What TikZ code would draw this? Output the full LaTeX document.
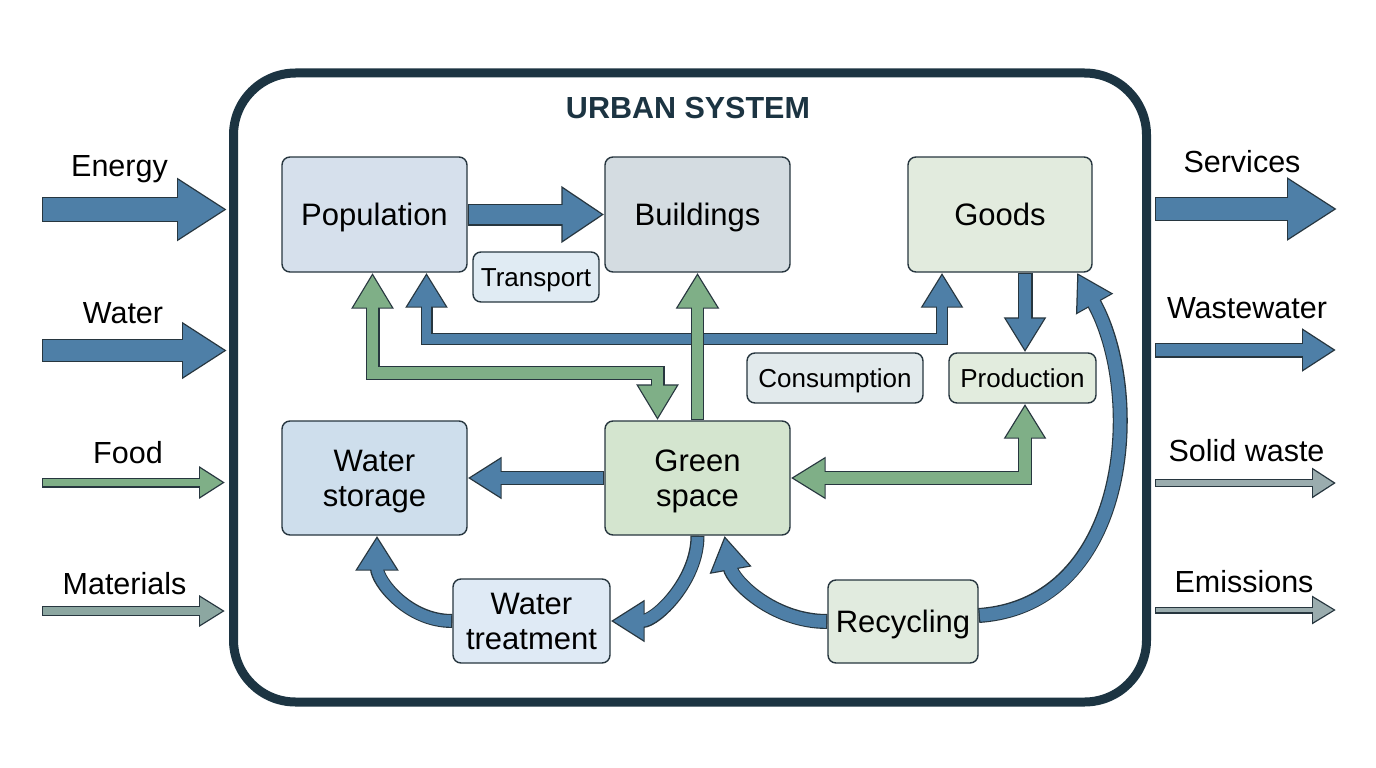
\documentclass[tikz,border=0pt]{standalone}
\usepackage{fontspec}
\setmainfont{Liberation Sans}
\usetikzlibrary{arrows.meta}

\definecolor{ink}{HTML}{27363F}
\definecolor{navy}{HTML}{1C3442}
\definecolor{arrowblue}{HTML}{4E7FA7}
\definecolor{arrowgreen}{HTML}{7FAF87}
\definecolor{arrowgray}{HTML}{8CA7A1}
\definecolor{arrowslate}{HTML}{9AACAE}
\definecolor{popfill}{HTML}{D6E0EC}
\definecolor{bldfill}{HTML}{D4DCE1}
\definecolor{goodsfill}{HTML}{E2EBDE}
\definecolor{transfill}{HTML}{E0EBF3}
\definecolor{consfill}{HTML}{E2EAEC}
\definecolor{prodfill}{HTML}{E2ECDE}
\definecolor{wstfill}{HTML}{CEDEEC}
\definecolor{greenfill}{HTML}{D4E5CF}
\definecolor{wtrfill}{HTML}{DFEAF5}
\definecolor{recyfill}{HTML}{E1EBDF}

\pgfdeclarelayer{bg}
\pgfsetlayers{bg,main}

\tikzset{
  box/.style={draw=ink, line width=1.4pt, rounded corners=8pt, align=center,
    inner sep=0pt, minimum width=185pt, minimum height=115pt,
    font=\fontsize{31}{35}\selectfont},
  oneline/.style={text height=22pt, text depth=0pt},
  tag/.style={box, minimum height=50pt, font=\fontsize{26}{30}\selectfont,
    text height=19pt, text depth=0pt},
  flowlabel/.style={anchor=base, inner sep=0pt, font=\fontsize{30.5}{35}\selectfont},
}

% outlined block arrow: [tips]{fill}{shaft}{head length}{head width}{path}
\newcommand{\flow}[6][->]{%
  \def\flowtips{#1}\def\flowtwo{<->}%
  \ifx\flowtips\flowtwo\def\flowcut{2.5pt}\else\def\flowcut{1.2pt}\fi
  \pgfmathsetmacro\flowsw{#3-2.4}%
  \pgfmathsetmacro\flowhl{#4-3.7}%
  \pgfmathsetmacro\flowhw{#5*(#4-3.7)/#4}%
  \draw[ink, line width=#3pt, arrows={#1},
    >={Triangle[length=#4pt, width=#5pt]}] #6;
  \draw[#2, line width=\flowsw pt, arrows={#1},
    >={Triangle[length=\flowhl pt, width=\flowhw pt]},
    shorten >=2.5pt, shorten <=\flowcut] #6;
}

\begin{document}
\begin{tikzpicture}[x=1pt,y=-1pt]
  \useasboundingbox (0,0) rectangle (1376,768);
  % --- city boundary ---
  \node[draw=navy, line width=9pt, rounded corners=62pt,
    minimum width=913pt, minimum height=629pt] (city) at (690,387.5) {};
  \node[anchor=base, text=navy, font=\bfseries\fontsize{30.5}{35}\selectfont]
    (title) at (688,118) {URBAN SYSTEM};
  % --- stocks ---
  \node[box, oneline, fill=popfill] (pop) at (374.5,214.5) {Population};
  \node[box, oneline, fill=bldfill] (bld) at (697.5,214.5) {Buildings};
  \node[box, oneline, fill=goodsfill, minimum width=184pt] (goods) at (1000,214.5) {Goods};
  \node[box, fill=wstfill, minimum height=114pt, text depth=0pt] (wst) at (374.5,478) {Water\\storage};
  \node[box, fill=greenfill, minimum height=114pt, text depth=0pt] (green) at (697.5,478) {Green\\space};
  \node[box, fill=wtrfill, minimum width=157pt, minimum height=84pt] (wtr) at (531.5,621) {Water\\treatment};
  \node[box, oneline, fill=recyfill, minimum width=150pt, minimum height=83pt] (recy) at (903,621.5) {Recycling};
  % --- processes ---
  \node[tag, fill=transfill, minimum width=126pt] (trans) at (536,277) {Transport};
  \node[tag, fill=consfill, minimum width=176pt] (cons) at (835,378) {Consumption};
  \node[tag, fill=prodfill, minimum width=147pt] (prod) at (1022.5,378) {Production};
  % --- inputs / outputs ---
  \node[flowlabel] (lenergy) at (119.5,176) {Energy};
  \node[flowlabel] (lwater) at (123,323) {Water};
  \node[flowlabel] (lfood) at (128,463) {Food};
  \node[flowlabel] (lmat) at (124.5,594) {Materials};
  \node[flowlabel] (lserv) at (1242,172) {Services};
  \node[flowlabel] (lwaste) at (1247,318) {Wastewater};
  \node[flowlabel] (lsolid) at (1246.5,461) {Solid waste};
  \node[flowlabel] (lemis) at (1244,592) {Emissions};
  \coordinate (inenergy) at (42,209.5);
  \coordinate (inwater) at (42,350.5);
  \coordinate (infood) at (42,482.5);
  \coordinate (inmat) at (42,611);
  \coordinate (outserv) at (1337,209);
  \coordinate (outwaste) at (1336,350);
  \coordinate (outsolid) at (1336,483);
  \coordinate (outemis) at (1336,610);

  \begin{pgfonlayer}{bg}
    \fill[white] (0,0) rectangle (1376,768);
    % flows in
    \flow{arrowblue}{25}{50}{60}{(inenergy) -- ([xshift=-2pt]inenergy -| city.west)}
    \flow{arrowblue}{23}{45}{54}{(inwater) -- ([xshift=-2pt]inwater -| city.west)}
    \flow{arrowgreen}{10}{26}{31}{(infood) -- ([xshift=-4pt]infood -| city.west)}
    \flow{arrowgray}{10}{26}{30}{(inmat) -- ([xshift=-4pt]inmat -| city.west)}
    % flows out
    \flow{arrowblue}{24}{50}{60}{([xshift=4pt]city.east |- outserv) -- (outserv)}
    \flow{arrowblue}{15}{34}{41}{([xshift=4pt]city.east |- outwaste) -- (outwaste)}
    \flow{arrowslate}{8}{24}{29}{([xshift=4pt]city.east |- outsolid) -- (outsolid)}
    \flow{arrowslate}{7}{24}{27}{([xshift=4pt]city.east |- outemis) -- (outemis)}
    % inner flows
    \flow{arrowblue}{22}{43}{54}{(pop.east) -- (bld.west)}
    \flow[<->]{arrowgreen}{14}{36}{40}{([xshift=-2pt]pop.south) -- ([xshift=-2pt]pop.south |- 0,373) -| ([xshift=-40pt]green.north)}
    \flow[<->]{arrowblue}{12}{35}{40}{([xshift=52pt]pop.south) -- ([xshift=52pt]pop.south |- 0,339) -| ([xshift=-58pt]goods.south)}
    \flow{arrowgreen}{13}{36}{41}{(green.north) -- (bld.south)}
    \flow{arrowblue}{14}{34}{40}{(green.west) -- (wst.east)}
    \flow{arrowblue}{15}{35}{40}{([xshift=25pt]goods.south) -- ([xshift=25pt]goods.south |- prod.north)}
    \flow[<->]{arrowgreen}{14}{35}{40}{(green.east) -| ([xshift=2.5pt]prod.south)}
    \flow{arrowblue}{15}{36}{40}{([yshift=6pt]recy.east) .. controls (1130,605) and (1145,394) .. ([xshift=77pt]goods.south)}
    \flow{arrowblue}{14}{35}{41}{(wtr.west) .. controls +(-45,0) and +(0,45) .. ([xshift=2.5pt]wst.south)}
    \flow{arrowblue}{14}{34}{40}{(green.south) .. controls +(0,45) and +(45,0) .. (wtr.east)}
    \flow{arrowblue}{15}{35}{40}{(recy.west) .. controls +(-55,0) and +(8,45) .. ([xshift=27pt]green.south)}
  \end{pgfonlayer}
\end{tikzpicture}
\end{document}
